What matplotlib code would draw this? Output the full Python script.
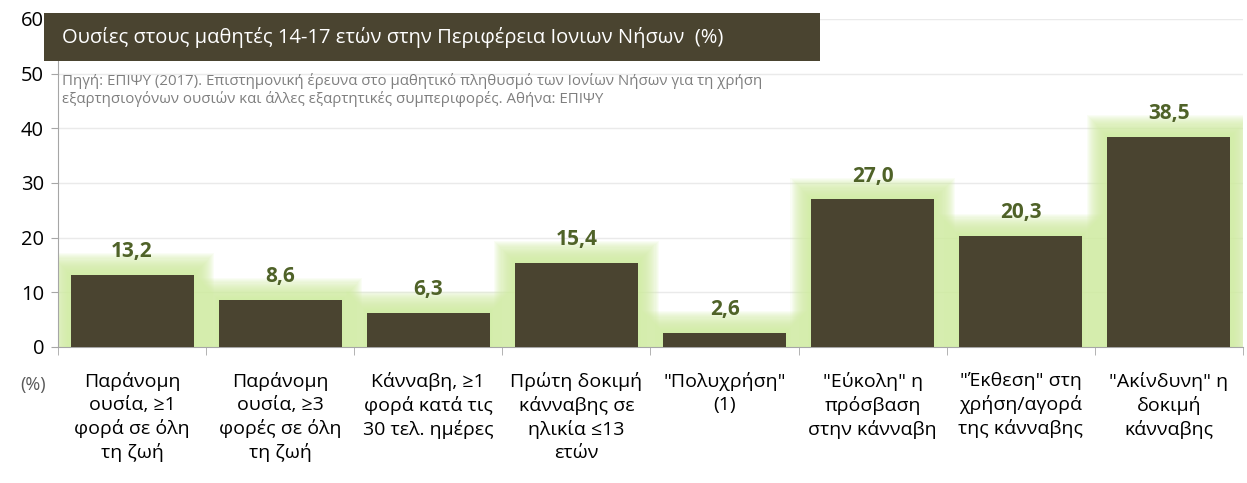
import numpy as np
import matplotlib
matplotlib.use('Agg')
from matplotlib import pyplot as plt
from matplotlib.patches import Rectangle

plt.rcParams['font.family'] = ['Open Sans', 'DejaVu Sans']

labels = [
    'Παράνομη\nουσία, ≥1\nφορά σε όλη\nτη ζωή',
    'Παράνομη\nουσία, ≥3\nφορές σε όλη\nτη ζωή',
    'Κάνναβη, ≥1\nφορά κατά τις\n30 τελ. ημέρες',
    'Πρώτη δοκιμή\nκάνναβης σε\nηλικία ≤13\nετών',
    '"Πολυχρήση"\n(1)',
    '"Εύκολη" η\nπρόσβαση\nστην κάνναβη',
    '"Έκθεση" στη\nχρήση/αγορά\nτης κάνναβης',
    '"Ακίνδυνη" η\nδοκιμή\nκάνναβης',
]
values = [13.2, 8.6, 6.3, 15.4, 2.6, 27.0, 20.3, 38.5]
yticks = [0, 10, 20, 30, 40, 50, 60]

title = 'Ουσίες στους μαθητές 14-17 ετών στην Περιφέρεια Ιονιων Νήσων  (%)'
source = ('Πηγή: ΕΠΙΨΥ (2017). Επιστημονική έρευνα στο μαθητικό πληθυσμό των Ιονίων Νήσων για τη χρήση\n'
          'εξαρτησιογόνων ουσιών και άλλες εξαρτητικές συμπεριφορές. Αθήνα: ΕΠΙΨΥ')

bar_color = '#4a4430'
glow_color = '#d2eda2'
val_color = '#4f6228'

fig = plt.figure(figsize=(12.47, 4.83), dpi=100)
ax = fig.add_axes([0.0465, 0.2816, 0.9503, 0.6791])

x = np.arange(len(values))
width = 0.83

# soft glow behind bars
n = 20
for k in range(n, 0, -1):
    f = k / n
    for xi, v in zip(x, values):
        ax.add_patch(Rectangle((xi - width / 2 - 0.14 * f, 0), width + 0.28 * f, v + 4.0 * f,
                               facecolor=glow_color, edgecolor='none', alpha=0.1, zorder=1))

ax.bar(x, values, width=width, color=bar_color, zorder=3)

for xi, v in zip(x, values):
    ax.text(xi, v + 2.3, f'{v:.1f}'.replace('.', ','), ha='center', va='bottom',
            fontsize=15, fontweight='bold', color=val_color, zorder=4)

ax.set_xlim(-0.5, len(values) - 0.5)
ax.set_ylim(0, 60)
ax.set_yticks(yticks)
ax.tick_params(axis='y', labelsize=14.5, length=5, color='#a6a6a6', pad=5)
ax.yaxis.grid(True, color='#eaeaea', linewidth=1, zorder=0)
ax.set_axisbelow(True)

ax.set_xticks(x)
ax.set_xticklabels(labels, fontsize=14, linespacing=1.33)
ax.set_xticks(np.arange(len(values) + 1) - 0.5, minor=True)
ax.tick_params(axis='x', which='major', length=0, pad=18)
ax.tick_params(axis='x', which='minor', length=6, color='#a6a6a6')

for s in ['top', 'right']:
    ax.spines[s].set_visible(False)
ax.spines['left'].set_color('#a6a6a6')
ax.spines['bottom'].set_color('#a6a6a6')

# title box
fig.patches.append(Rectangle((44 / 1247, 1 - 61 / 483), (820 - 44) / 1247, 48 / 483,
                             transform=fig.transFigure, facecolor='#4a4430', edgecolor='none', zorder=5))
fig.text(62 / 1247, 1 - 38 / 483, title, color='white', fontsize=14.5, va='center', ha='left', zorder=6)
fig.text(62 / 1247, 1 - 73 / 483, source, color='#7f7f7f', fontsize=10.8, va='top', ha='left',
         linespacing=1.2, zorder=6)

fig.text(20 / 1247, 1 - 385 / 483, '(%)', color='#595959', fontsize=13, va='center', ha='left')

plt.savefig('out.png', dpi=100)
